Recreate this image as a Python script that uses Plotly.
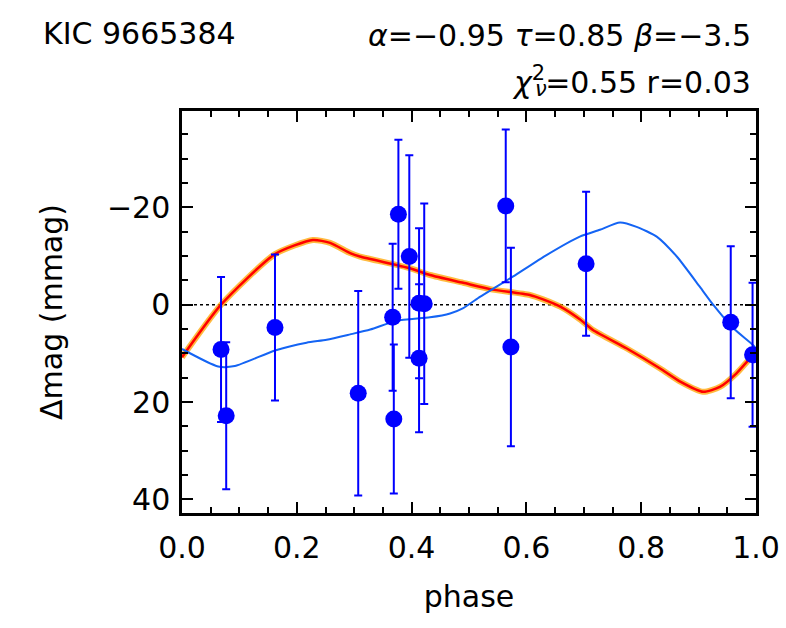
import plotly.graph_objects as go

# Observed data points (phase, delta mag in mmag, error)
obs_phase = [0.068, 0.077, 0.162, 0.307, 0.367, 0.369, 0.377, 0.396, 0.413, 0.413, 0.422, 0.564, 0.573, 0.704, 0.956, 0.994]
obs_mag = [9.2, 22.8, 4.7, 18.2, 2.6, 23.5, -18.6, -9.9, 11.0, -0.3, -0.2, -20.3, 8.7, -8.4, 3.6, 10.3]
obs_err = [14.9, 15.1, 15.0, 21.0, 15.1, 15.3, 15.3, 20.8, 15.2, 15.4, 20.6, 15.7, 20.4, 14.8, 15.6, 14.8]

# Model (red) curve
red_phase = [0.0, 0.068, 0.162, 0.228, 0.258, 0.293, 0.31, 0.397, 0.432, 0.49, 0.537, 0.606, 0.629, 0.659, 0.693, 0.716, 0.775, 0.833, 0.868, 0.908, 0.937, 0.966, 1.0]
red_mag = [10.8, 0.0, -10.4, -13.3, -12.7, -10.6, -9.9, -7.5, -6.1, -4.5, -3.2, -2.0, -1.1, 0.4, 3.0, 5.2, 9.0, 13.1, 15.8, 17.9, 16.9, 14.1, 9.6]

# Alternative (blue) curve
blue_phase = [0.0, 0.063, 0.092, 0.162, 0.217, 0.252, 0.293, 0.328, 0.374, 0.432, 0.467, 0.49, 0.519, 0.548, 0.577, 0.635, 0.693, 0.728, 0.763, 0.792, 0.827, 0.862, 0.902, 0.926, 0.961, 0.995, 1.0]
blue_mag = [9.1, 12.7, 12.6, 9.4, 7.8, 7.2, 6.1, 5.1, 3.3, 2.6, 1.8, 0.7, -1.6, -3.7, -5.8, -10.2, -14.0, -15.4, -16.9, -16.0, -14.0, -9.9, -3.7, 0.1, 4.9, 8.3, 9.1]

x_ticks = [0.0, 0.2, 0.4, 0.6, 0.8, 1.0]
y_ticks = [-20, 0, 20, 40]

FONT = "DejaVu Sans"

fig = go.Figure()

fig.add_trace(go.Scatter(x=[0, 1], y=[0, 0], mode="lines",
                         line=dict(color="black", width=1.5, dash="dot"),
                         showlegend=False, hoverinfo="skip"))
fig.add_trace(go.Scatter(x=red_phase, y=red_mag, mode="lines",
                         line=dict(color="#ffa500", width=6, shape="spline", smoothing=0.6),
                         opacity=0.75, showlegend=False))
fig.add_trace(go.Scatter(x=red_phase, y=red_mag, mode="lines",
                         line=dict(color="#ff0000", width=2.5, shape="spline", smoothing=0.6),
                         showlegend=False))
fig.add_trace(go.Scatter(x=blue_phase, y=blue_mag, mode="lines",
                         line=dict(color="#1464f4", width=2, shape="spline", smoothing=0.6),
                         showlegend=False))
fig.add_trace(go.Scatter(x=obs_phase, y=obs_mag, mode="markers",
                         marker=dict(color="#0000ff", size=17),
                         error_y=dict(type="data", array=obs_err, visible=True,
                                      color="#0000ff", thickness=2, width=4),
                         showlegend=False))

axis_common = dict(showline=True, linecolor="black", linewidth=2.5, mirror="ticks",
                   ticks="inside", tickwidth=2, ticklen=11, tickcolor="black",
                   showgrid=False, zeroline=False, automargin=False,
                   tickfont=dict(family=FONT, size=30, color="black"))

fig.update_xaxes(range=[0, 1], tickvals=x_ticks, tickformat=".1f", ticklabelstandoff=6,
                 minor=dict(ticks="inside", ticklen=6, tickwidth=2, dtick=0.05, tick0=0, tickcolor="black"),
                 title=dict(text="phase", font=dict(family=FONT, size=30, color="black"), standoff=23),
                 **axis_common)
fig.update_yaxes(range=[42.8, -39.8], tickvals=y_ticks, ticklabelstandoff=3,
                 minor=dict(ticks="inside", ticklen=6, tickwidth=2, dtick=5, tick0=0, tickcolor="black"),
                 title=dict(text="Δmag (mmag)", font=dict(family=FONT, size=30, color="black"), standoff=36),
                 **axis_common)

fig.update_layout(
    width=786, height=628,
    margin=dict(l=182, r=30, t=111, b=115),
    paper_bgcolor="white", plot_bgcolor="white",
    font=dict(family=FONT, size=30, color="black"),
    annotations=[
        dict(text="KIC 9665384", xref="paper", yref="paper", x=0, y=1.0, xshift=-141, yshift=78,
             xanchor="left", yanchor="middle", showarrow=False,
             font=dict(family=FONT, size=30, color="black")),
        dict(text="<i>α</i>=−0.95 <i>τ</i>=0.85 <i>β</i>=−3.5", xref="paper", yref="paper",
             x=1.0, y=1.0, xshift=-3, yshift=76, xanchor="right", yanchor="middle", showarrow=False,
             font=dict(family=FONT, size=30, color="black")),
        dict(text="<i>χ</i><sup>2</sup>=0.55 r=0.03", xref="paper", yref="paper",
             x=1.0, y=1.0, xshift=-3, yshift=31, xanchor="right", yanchor="middle", showarrow=False,
             font=dict(family=FONT, size=30, color="black")),
        dict(text="<i>ν</i>", xref="paper", yref="paper",
             x=1.0, y=1.0, xshift=-3 - 206 - 14, yshift=22, xanchor="left", yanchor="middle",
             showarrow=False, font=dict(family=FONT, size=21, color="black")),
    ],
)

fig.write_html("out.html", config=dict(displayModeBar=False),
               post_script="document.body.style.margin='0';")
